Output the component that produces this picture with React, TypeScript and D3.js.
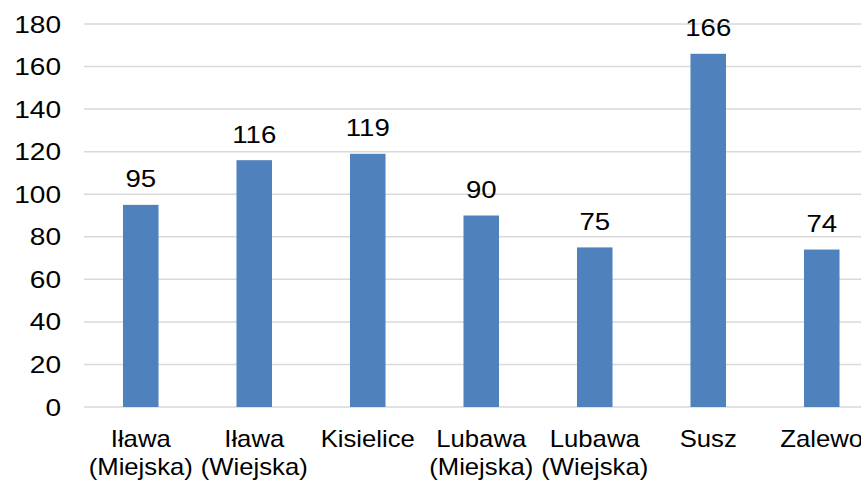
import React from "react";
import * as d3 from "d3";

const categories: string[][] = [
  ["Iława", "(Miejska)"],
  ["Iława", "(Wiejska)"],
  ["Kisielice"],
  ["Lubawa", "(Miejska)"],
  ["Lubawa", "(Wiejska)"],
  ["Susz"],
  ["Zalewo"],
];
const values: number[] = [95, 116, 119, 90, 75, 166, 74];
const yTicks: number[] = [0, 20, 40, 60, 80, 100, 120, 140, 160, 180];

const W = 861;
const H = 483;
const left = 84;
const step = 113.5;
const font = "'Liberation Sans', Arial, sans-serif";

export default function App() {
  const keys = categories.map((c) => c.join(" "));
  const x = d3
    .scaleBand<string>()
    .domain(keys)
    .range([left, left + step * keys.length])
    .paddingInner(0.687)
    .paddingOuter(0.3435);
  const y = d3.scaleLinear().domain([0, 180]).range([407, 24]);
  const fs = 24;
  return (
    <svg
      width={W}
      height={H}
      style={{ position: "absolute", left: 0, top: 0, background: "#fff" }}
    >
      <rect x={0} y={0} width={W} height={H} fill="#fff" />
      {yTicks.map((t) => (
        <g key={t}>
          <line x1={left} x2={W} y1={y(t)} y2={y(t)} stroke="#d9d9d9" strokeWidth={1.5} />
          <g transform={`translate(61,${y(t) + 8.5}) scale(1.17,1)`}>
            <text textAnchor="end" fontFamily={font} fontSize={fs} fill="#000">
              {t}
            </text>
          </g>
        </g>
      ))}
      {values.map((v, i) => {
        const k = keys[i];
        const bx = x(k)!;
        const cx = bx + x.bandwidth() / 2;
        return (
          <g key={k}>
            <rect x={bx} y={y(v)} width={x.bandwidth()} height={y(0) - y(v)} fill="#4f81bd" />
            <g transform={`translate(${cx},${y(v) - 17.5}) scale(1.15,1)`}>
              <text textAnchor="middle" fontFamily={font} fontSize={fs} fill="#000">
                {v}
              </text>
            </g>
            {categories[i].map((line, j) => (
              <g key={j} transform={`translate(${cx},${447 + j * 28}) scale(1.07,1)`}>
                <text textAnchor="middle" fontFamily={font} fontSize={fs} fill="#000">
                  {line}
                </text>
              </g>
            ))}
          </g>
        );
      })}
    </svg>
  );
}
